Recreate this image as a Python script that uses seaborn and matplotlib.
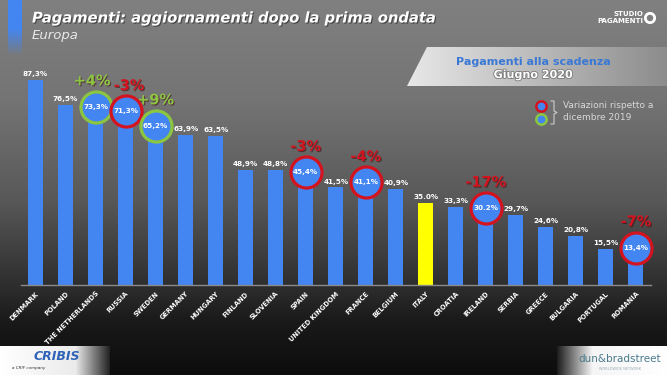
import numpy as np
import pandas as pd
import matplotlib
matplotlib.use("Agg")
import matplotlib.pyplot as plt
import seaborn as sns
from matplotlib.patches import Polygon
import matplotlib.patheffects as pe

# --- dati ---
countries = ['DENMARK', 'POLAND', 'THE NETHERLANDS', 'RUSSIA', 'SWEDEN', 'GERMANY',
             'HUNGARY', 'FINLAND', 'SLOVENIA', 'SPAIN', 'UNITED KINGDOM', 'FRANCE',
             'BELGIUM', 'ITALY', 'CROATIA', 'IRELAND', 'SERBIA', 'GREECE',
             'BULGARIA', 'PORTUGAL', 'ROMANIA']
values = [87.3, 76.5, 73.3, 71.3, 65.2, 63.9, 63.5, 48.9, 48.8, 45.4, 41.5, 41.1,
          40.9, 35.0, 33.3, 30.2, 29.7, 24.6, 20.8, 15.5, 13.4]
value_labels = ['87,3%', '76,5%', '73,3%', '71,3%', '65,2%', '63,9%', '63,5%', '48,9%',
                '48,8%', '45,4%', '41,5%', '41,1%', '40,9%', '35.0%', '33,3%', '30.2%',
                '29,7%', '24,6%', '20,8%', '15,5%', '13,4%']
# variazioni rispetto a dicembre 2019
var_countries = ['THE NETHERLANDS', 'RUSSIA', 'SWEDEN', 'SPAIN', 'FRANCE', 'IRELAND', 'ROMANIA']
var_values = [4, -3, 9, -3, -4, -17, -7]

BLUE = '#4386f2'
YELLOW = '#ffff00'
RED = '#d3141f'
GREEN = '#8cc641'

df = pd.DataFrame({'country': countries, 'value': values, 'label': value_labels})
palette = {c: (YELLOW if c == 'ITALY' else BLUE) for c in countries}

W, H = 667, 375
fig = plt.figure(figsize=(W / 100, H / 100), dpi=100)

# sfondo sfumato
bg = fig.add_axes([0, 0, 1, 1])
yy = np.arange(H)
grey = np.interp(yy, [0, 100, 200, 285, 320, 375], [128, 116, 88, 46, 26, 12]) / 255
grad = np.repeat(grey[:, None], W, axis=1)
bg.imshow(np.dstack([grad, grad, grad]), aspect='auto', extent=[0, W, H, 0])
bg.set_xlim(0, W)
bg.set_ylim(H, 0)
bg.axis('off')

# barra blu in alto a sinistra
accent = np.ones((60, 1, 4))
accent[:, 0, :3] = matplotlib.colors.to_rgb(BLUE)
accent[:, 0, 3] = np.interp(np.arange(60), [0, 28, 55, 60], [1, 1, 0, 0])
bg.imshow(accent, aspect='auto', extent=[8, 22, 60, 0], zorder=2)

shadow = [pe.withSimplePatchShadow(offset=(0.8, -0.8), shadow_rgbFace='#222222', alpha=0.6)]
bg.text(32, 18, 'Pagamenti: aggiornamenti dopo la prima ondata', color='white',
        fontsize=10.6, fontweight='bold', fontstyle='italic', va='center', ha='left',
        family='DejaVu Sans', path_effects=shadow)
bg.text(32, 36, 'Europa', color='#e8e8e8', fontsize=9.5, fontstyle='italic',
        va='center', ha='left')

# logo in alto a destra
bg.text(643, 14, 'STUDIO', color='white', fontsize=5, fontweight='bold', ha='right', va='center')
bg.text(643, 21, 'PAGAMENTI', color='white', fontsize=5, fontweight='bold', ha='right', va='center')
bg.scatter([650], [18], s=45, facecolor='none', edgecolor='white', linewidth=2, zorder=3)

# riquadro "Pagamenti alla scadenza"
panel = Polygon([(427, 47), (667, 47), (667, 86), (407, 86)], closed=True,
                facecolor='none', edgecolor='none')
bg.add_patch(panel)
pg = np.interp(np.arange(260), [0, 260], [232, 140]) / 255
pgrad = np.repeat(pg[None, :], 40, axis=0)
im = bg.imshow(np.dstack([pgrad, pgrad, pgrad]), aspect='auto', extent=[407, 667, 86, 47], zorder=2)
im.set_clip_path(panel)
bg.text(533, 62, 'Pagamenti alla scadenza', color='#3a78d6', fontsize=8, fontweight='bold',
        ha='center', va='center', zorder=3)
bg.text(533, 75, 'Giugno 2020', color='white', fontsize=8, fontweight='bold',
        ha='center', va='center', zorder=3,
        path_effects=[pe.withStroke(linewidth=1.2, foreground='#777777')])

# legenda variazioni
bg.scatter([541], [106], s=55, facecolor=BLUE, edgecolor=RED, linewidth=1.8, zorder=3)
bg.scatter([541], [119], s=55, facecolor=BLUE, edgecolor=GREEN, linewidth=1.8, zorder=3)
bg.plot([551, 554, 554, 557, 554, 554, 551], [101, 101, 111, 112.5, 114, 124, 124],
        color='#cccccc', lw=0.8, zorder=3)
bg.text(563, 106, 'Variazioni rispetto a', color='#d8d8d8', fontsize=6.5, va='center', zorder=3)
bg.text(563, 118, 'dicembre 2019', color='#d8d8d8', fontsize=6.5, va='center', zorder=3)

# loghi in basso
lg = np.interp(np.arange(110), [0, 75, 110], [255, 235, 30]) / 255
lgrad = np.repeat(lg[None, :], 29, axis=0)
bg.imshow(np.dstack([lgrad, lgrad, lgrad]), aspect='auto', extent=[0, 110, 375, 346], zorder=2)
bg.text(34, 357, 'CRIBIS', color='#2f63b8', fontsize=9, fontweight='bold', fontstyle='italic',
        va='center', ha='left', zorder=3)
bg.text(12, 368, 'a CRIF company', color='#333333', fontsize=3, fontstyle='italic',
        va='center', ha='left', zorder=3)
rg = np.interp(np.arange(110), [0, 35, 110], [30, 245, 255]) / 255
rgrad = np.repeat(rg[None, :], 29, axis=0)
bg.imshow(np.dstack([rgrad, rgrad, rgrad]), aspect='auto', extent=[557, 667, 375, 346], zorder=2)
bg.text(620, 359, 'dun&bradstreet', color='#4a7a8c', fontsize=7.5, ha='center',
        va='center', zorder=3)
bg.text(620, 369, 'WORLDWIDE NETWORK', color='#9aaab2', fontsize=2.5, ha='center',
        va='center', zorder=3)

# --- grafico a barre ---
ax = fig.add_axes([20.5 / W, 90 / H, 630.5 / W, 235 / H])
ax.patch.set_alpha(0)
sns.barplot(data=df, x='country', y='value', hue='country', palette=palette,
            width=0.5, legend=False, ax=ax, saturation=1)
ax.set_xlim(-0.5, len(countries) - 0.5)
ax.set_ylim(0, 100)
ax.set_xlabel('')
ax.set_ylabel('')
ax.set_yticks([])
for s in ['top', 'right', 'left']:
    ax.spines[s].set_visible(False)
ax.spines['bottom'].set_color('#8a8a8a')
ax.spines['bottom'].set_linewidth(1)
ax.tick_params(axis='x', length=0, pad=4)
ax.set_xticks(range(len(countries)))
ax.set_xticklabels(countries, rotation=45, ha='right', rotation_mode='anchor',
                   fontsize=4.8, fontweight='bold', color='white')

# cerchi con variazione
circle_tr = matplotlib.transforms.offset_copy(ax.transData, fig=fig, y=4.3, units='points')
# piccolo spostamento orizzontale per le due etichette che si toccano
nudge = {'THE NETHERLANDS': -2.5, 'RUSSIA': 2.5}
for c, v in zip(var_countries, var_values):
    i = countries.index(c)
    col = GREEN if v > 0 else RED
    ax.scatter([i], [values[i]], s=500, facecolor=BLUE, edgecolor=col, linewidth=2.3,
               zorder=4, transform=circle_tr, clip_on=False)
    ax.annotate(f'{v:+d}%', xy=(i, values[i]), xytext=(nudge.get(c, 0), 23),
                textcoords='offset points',
                ha='center', va='center', color=col, fontsize=10.5, fontweight='bold',
                annotation_clip=False,
                path_effects=[pe.withSimplePatchShadow(offset=(0.8, -0.8),
                                                       shadow_rgbFace='#3a0000', alpha=0.5)])

# etichette valori
for i, (v, lab) in enumerate(zip(values, value_labels)):
    ax.annotate(lab, xy=(i, v), xytext=(0, 4.3), textcoords='offset points',
                ha='center', va='center', color='white', fontsize=5.2, fontweight='bold',
                zorder=5, annotation_clip=False)

fig.savefig('out.png', dpi=100)
